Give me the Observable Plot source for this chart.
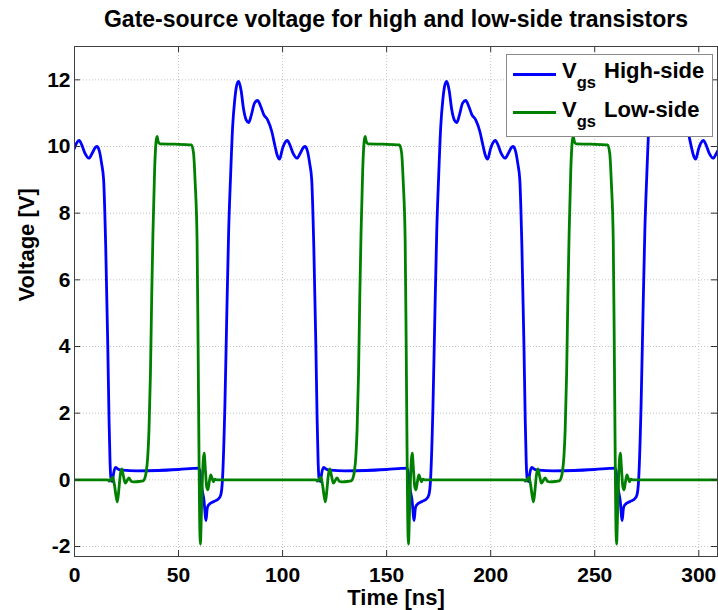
<!DOCTYPE html>
<html><head><meta charset="utf-8">
<script src="https://cdn.jsdelivr.net/npm/d3@7"></script>
<script src="https://cdn.jsdelivr.net/npm/@observablehq/plot@0.6"></script>
<style>
body{margin:0;background:#fff;}
#wrap{position:relative;width:718px;height:610px;font-family:"Liberation Sans",Arial,Helvetica,sans-serif;font-weight:bold;color:#000;overflow:hidden;}
#title{position:absolute;left:74px;width:644px;top:8px;font-size:23px;line-height:1;text-align:center;white-space:nowrap;}
#chart{position:absolute;left:0;top:36px;}
#legend{position:absolute;left:506px;top:54px;width:205px;height:81px;border:1px solid #8a8a8a;background:#fff;}
#legend .sw{position:absolute;left:6px;width:43px;height:3px;}
#legend .row{position:absolute;left:55px;font-size:22px;line-height:1;white-space:nowrap;}
#legend sub{font-size:16.5px;vertical-align:-10.7px;line-height:1;margin-right:2px;}
</style></head>
<body>
<div id="wrap">
  <div id="title">Gate-source voltage for high and low-side transistors</div>
  <div id="chart"></div>
  <div id="legend">
    <div class="sw" style="top:17.5px;background:#0000ff"></div>
    <div class="row" style="top:4.7px">V<sub>gs</sub> High-side</div>
    <div class="sw" style="top:56.2px;background:#008000"></div>
    <div class="row" style="top:43.7px">V<sub>gs</sub> Low-side</div>
  </div>
</div>
<script>
// ---- data (time in ns, voltage in V) ----
const highT = [
  0,1,2.2,3.5,5,6.9,8.5,10,10.9,12,13,14,15,16,16.6,17.1,17.6,18.2,18.8,19.7,21,23,30,40,50,59.6,60.3,61.2,62.2,63.2,63.8,64.5,67,69.2,70.3,71.1,72.3,73.2,74.1,75,76,77,78,78.9,80,81.3,82.5,83.7,85,86.5,88,89.5,91,92.8,94.8,96.4,97.5,98.5,
  100,101,102.2,103.5,105,106.9,108.5,110,110.9,112,113,114,115,116,116.6,117.1,117.6,118.2,118.8,119.7,121,123,130,140,150,159.6,160.3,161.2,162.2,163.2,163.8,164.5,167,169.2,170.3,171.1,172.3,173.2,174.1,175,176,177,178,178.9,180,181.3,182.5,183.7,185,186.5,188,189.5,191,192.8,194.8,196.4,197.5,198.5,
  200,201,202.2,203.5,205,206.9,208.5,210,210.9,212,213,214,215,216,216.6,217.1,217.6,218.2,218.8,219.7,221,223,230,240,250,259.6,260.3,261.2,262.2,263.2,263.8,264.5,267,269.2,270.3,271.1,272.3,273.2,274.1,275,276,277,278,278.9,280,281.3,282.5,283.7,285,286.5,288,289.5,291,292.8,294.8,296.4,297.5,298.5,
  300,301,302.2,303.5,305,306.9,308.5,310
];
const highV = [
  9.95,10.1,10.18,10.05,9.8,9.65,9.8,9.97,10.0,9.85,9.5,9.0,7.0,4.0,1.8,0.5,0.0,-0.05,0.2,0.37,0.32,0.29,0.27,0.28,0.31,0.35,0.25,-0.25,-0.6,-1.22,-0.85,-0.75,-0.65,-0.57,-0.45,0.0,2.3,5.0,7.5,9.1,10.6,11.4,11.85,11.95,11.7,11.1,10.8,10.72,10.95,11.3,11.38,11.2,10.95,10.8,10.45,10.0,9.72,9.62,
  9.95,10.1,10.18,10.05,9.8,9.65,9.8,9.97,10.0,9.85,9.5,9.0,7.0,4.0,1.8,0.5,0.0,-0.05,0.2,0.37,0.32,0.29,0.27,0.28,0.31,0.35,0.25,-0.25,-0.6,-1.22,-0.85,-0.75,-0.65,-0.57,-0.45,0.0,2.3,5.0,7.5,9.1,10.6,11.4,11.85,11.95,11.7,11.1,10.8,10.72,10.95,11.3,11.38,11.2,10.95,10.8,10.45,10.0,9.72,9.62,
  9.95,10.1,10.18,10.05,9.8,9.65,9.8,9.97,10.0,9.85,9.5,9.0,7.0,4.0,1.8,0.5,0.0,-0.05,0.2,0.37,0.32,0.29,0.27,0.28,0.31,0.35,0.25,-0.25,-0.6,-1.22,-0.85,-0.75,-0.65,-0.57,-0.45,0.0,2.3,5.0,7.5,9.1,10.6,11.4,11.85,11.95,11.7,11.1,10.8,10.72,10.95,11.3,11.38,11.2,10.95,10.8,10.45,10.0,9.72,9.62,
  9.95,10.1,10.18,10.05,9.8,9.65,9.8,9.97
];
const lowT = [
  0,16,16.8,17.6,18.4,19.2,20,20.6,21.3,22,22.7,23.5,24.4,25.3,26.2,27.2,28.5,31,33,33.8,34.5,35.2,35.8,36.5,37.1,37.7,38.5,39.2,39.7,40.2,41,48,56.2,57.2,58,58.9,59.4,59.8,60.1,60.5,60.9,61.5,62.3,62.9,63.5,64.1,64.8,65.5,66.1,66.7,67.4,68.3,
  100,116,116.8,117.6,118.4,119.2,120,120.6,121.3,122,122.7,123.5,124.4,125.3,126.2,127.2,128.5,131,133,133.8,134.5,135.2,135.8,136.5,137.1,137.7,138.5,139.2,139.7,140.2,141,148,156.2,157.2,158,158.9,159.4,159.8,160.1,160.5,160.9,161.5,162.3,162.9,163.5,164.1,164.8,165.5,166.1,166.7,167.4,168.3,
  200,216,216.8,217.6,218.4,219.2,220,220.6,221.3,222,222.7,223.5,224.4,225.3,226.2,227.2,228.5,231,233,233.8,234.5,235.2,235.8,236.5,237.1,237.7,238.5,239.2,239.7,240.2,241,248,256.2,257.2,258,258.9,259.4,259.8,260.1,260.5,260.9,261.5,262.3,262.9,263.5,264.1,264.8,265.5,266.1,266.7,267.4,268.3,
  300,310
];
const lowV = [
  0,0,-0.04,0.02,0.08,-0.15,-0.5,-0.66,-0.3,0.15,0.33,0.12,-0.1,-0.02,0.06,-0.04,-0.06,-0.05,-0.03,0.05,0.25,0.7,1.5,3.2,5.5,7.4,9.3,10.15,10.3,10.15,10.08,10.07,10.05,9.8,8.9,7.2,4.0,1.0,-1.0,-1.93,-1.2,0.1,0.8,0.3,-0.2,-0.3,-0.05,0.15,0.05,-0.06,0.02,0.0,
  0,0,-0.04,0.02,0.08,-0.15,-0.5,-0.66,-0.3,0.15,0.33,0.12,-0.1,-0.02,0.06,-0.04,-0.06,-0.05,-0.03,0.05,0.25,0.7,1.5,3.2,5.5,7.4,9.3,10.15,10.3,10.15,10.08,10.07,10.05,9.8,8.9,7.2,4.0,1.0,-1.0,-1.93,-1.2,0.1,0.8,0.3,-0.2,-0.3,-0.05,0.15,0.05,-0.06,0.02,0.0,
  0,0,-0.04,0.02,0.08,-0.15,-0.5,-0.66,-0.3,0.15,0.33,0.12,-0.1,-0.02,0.06,-0.04,-0.06,-0.05,-0.03,0.05,0.25,0.7,1.5,3.2,5.5,7.4,9.3,10.15,10.3,10.15,10.08,10.07,10.05,9.8,8.9,7.2,4.0,1.0,-1.0,-1.93,-1.2,0.1,0.8,0.3,-0.2,-0.3,-0.05,0.15,0.05,-0.06,0.02,0.0,
  0,0
];
const xTicks = [0, 50, 100, 150, 200, 250, 300];
const yTicks = [-2, 0, 2, 4, 6, 8, 10, 12];
const xDomain = [0, 309];
const yDomain = [-2.3, 13];

// ---- layout ----
const W = 718, H = 574, mT = 10, mB = 54, mL = 74, mR = 1;
const fw = W - mL - mR, fh = H - mT - mB;
const font = "'Liberation Sans', Arial, Helvetica, sans-serif";

const high = highT.map((t, i) => ({t, v: highV[i]}));
const low = lowT.map((t, i) => ({t, v: lowV[i]}));

const chart = Plot.plot({
  width: W, height: H,
  marginTop: mT, marginBottom: mB, marginLeft: mL, marginRight: mR,
  x: {domain: xDomain},
  y: {domain: yDomain},
  style: {fontFamily: font, fontWeight: "bold", background: "#fff", color: "#000"},
  marks: [
    Plot.ruleX(xTicks, {stroke: "#c4c4c4", strokeDasharray: "1,2", strokeWidth: 1}),
    Plot.ruleY(yTicks, {stroke: "#c4c4c4", strokeDasharray: "1,2", strokeWidth: 1}),
    Plot.line(high, {x: "t", y: "v", stroke: "#0000ff", strokeWidth: 2.8, curve: "monotone-x", clip: true}),
    Plot.line(low, {x: "t", y: "v", stroke: "#008000", strokeWidth: 2.8, curve: "monotone-x", clip: true}),
    Plot.tickX(xTicks, {x: d => d, insetTop: fh - 6, stroke: "#333"}),
    Plot.tickX(xTicks, {x: d => d, insetBottom: fh - 6, stroke: "#333"}),
    Plot.tickY(yTicks, {y: d => d, insetRight: fw - 6, stroke: "#333"}),
    Plot.tickY(yTicks, {y: d => d, insetLeft: fw - 6, stroke: "#333"}),
    Plot.frame({stroke: "#404040", strokeWidth: 1}),
    Plot.axisX(xTicks, {tickSize: 0, tickPadding: 11, fontSize: 21, fontWeight: "bold", label: null, tickFormat: d => String(d)}),
    Plot.axisY(yTicks, {tickSize: 0, tickPadding: 4, fontSize: 21, fontWeight: "bold", label: null, tickFormat: d => String(d)}),
    Plot.text(["Time [ns]"], {text: d => d, frameAnchor: "bottom", dy: 41.5, lineAnchor: "middle", fontSize: 22, fontWeight: "bold"}),
    Plot.text(["Voltage [V]"], {text: d => d, frameAnchor: "left", dx: -48, rotate: -90, lineAnchor: "middle", fontSize: 22, fontWeight: "bold"})
  ]
});
document.getElementById("chart").appendChild(chart);
</script>
</body></html>
